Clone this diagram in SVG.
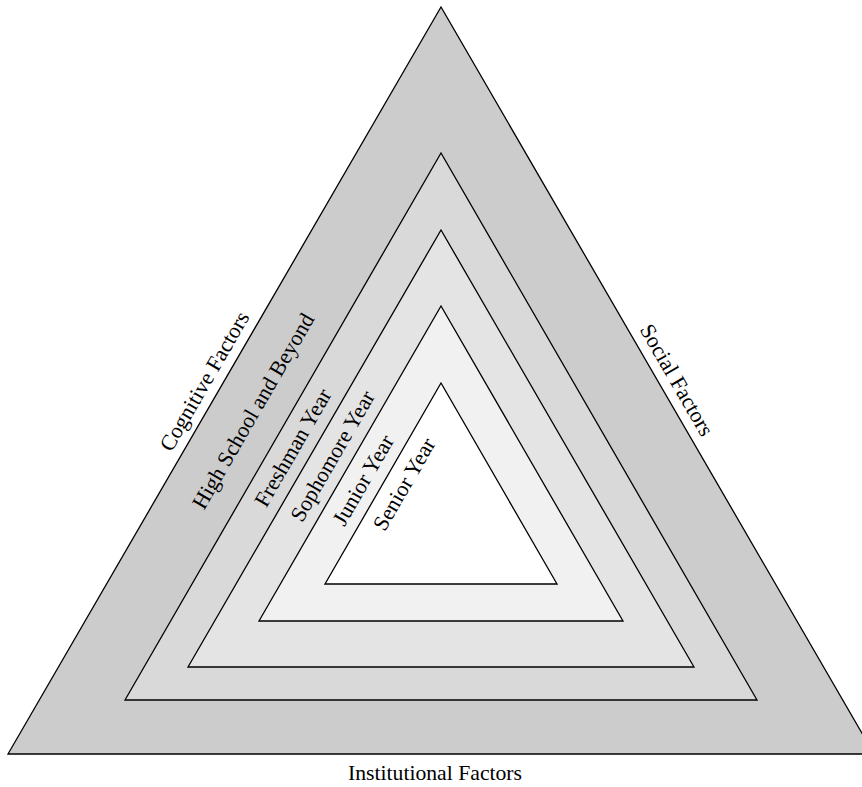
<svg xmlns="http://www.w3.org/2000/svg" width="862" height="787" viewBox="0 0 862 787">
<style>
.t{stroke:#000;stroke-width:1.3;stroke-linejoin:miter}
.lb{font-family:"Liberation Serif",serif;font-size:22px;fill:#000;text-anchor:middle;dominant-baseline:central}
.bt{font-family:"Liberation Serif",serif;font-size:21.7px;fill:#000;text-anchor:middle}
</style>
<rect width="862" height="787" fill="#fff"/>
<g id="outer"><polygon class="t" points="441,7 8,754 874,754" fill="#cccccc"/></g>
<g id="high-school"><polygon class="t" points="441,153 125,700 757,700" fill="#d9d9d9"/></g>
<g id="freshman"><polygon class="t" points="441,230 188,667 694,667" fill="#e4e4e4"/></g>
<g id="sophomore"><polygon class="t" points="441,306 259,621 623,621" fill="#f1f1f1"/></g>
<g id="junior"><polygon class="t" points="441,383 325,584 557,584" fill="#ffffff"/></g>
<g id="labels">
<text class="lb" transform="translate(204.3,381) rotate(-60)">Cognitive Factors</text>
<text class="lb" transform="translate(677,380) rotate(60)">Social Factors</text>
<text class="bt" x="435" y="780">Institutional Factors</text>
<text class="lb" transform="translate(253,411) rotate(-60)">High School and Beyond</text>
<text class="lb" transform="translate(292.7,447.6) rotate(-60)">Freshman Year</text>
<text class="lb" transform="translate(332.3,456) rotate(-60)">Sophomore Year</text>
<text class="lb" transform="translate(363,480) rotate(-60)">Junior Year</text>
<text class="lb" transform="translate(404,484) rotate(-60)">Senior Year</text>
</g>
</svg>
